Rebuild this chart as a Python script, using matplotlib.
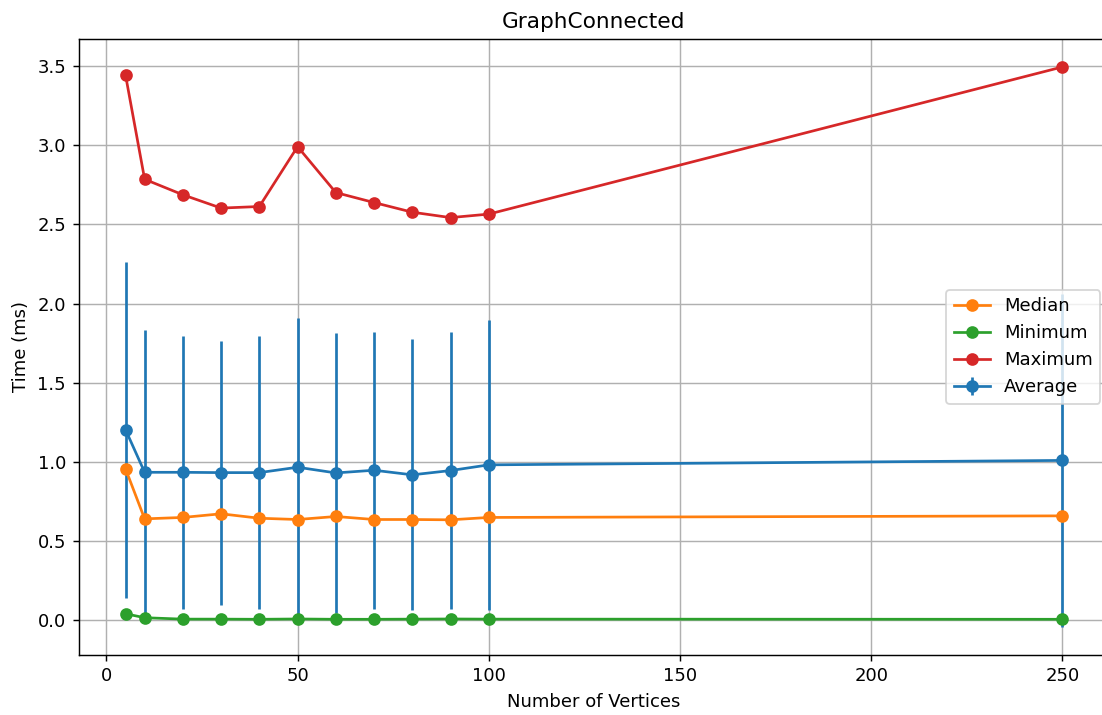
import matplotlib.pyplot as plt

# vertex counts and timings (ms)
vertices = [5, 10, 20, 30, 40, 50, 60, 70, 80, 90, 100, 250]
average = [1.204, 0.935, 0.935, 0.933, 0.933, 0.967, 0.931, 0.948, 0.919, 0.946, 0.982, 1.01]
std_dev = [1.06, 0.90, 0.862, 0.833, 0.864, 0.944, 0.885, 0.875, 0.855, 0.875, 0.915, 1.05]
median = [0.957, 0.641, 0.65, 0.673, 0.645, 0.637, 0.656, 0.637, 0.637, 0.635, 0.65, 0.66]
minimum = [0.042, 0.017, 0.008, 0.008, 0.007, 0.009, 0.007, 0.007, 0.008, 0.009, 0.008, 0.007]
maximum = [3.443, 2.785, 2.687, 2.603, 2.613, 2.991, 2.701, 2.638, 2.577, 2.543, 2.565, 3.494]

fig = plt.figure(figsize=(1102 / 130, 715 / 130), dpi=130)
plt.errorbar(vertices, average, yerr=std_dev, fmt='-o', label='Average')
plt.plot(vertices, median, '-o', label='Median')
plt.plot(vertices, minimum, '-o', label='Minimum')
plt.plot(vertices, maximum, '-o', label='Maximum')

plt.title('GraphConnected')
plt.xlabel('Number of Vertices')
plt.ylabel('Time (ms)')
plt.legend(loc='center right')
plt.grid(True)
# right spine sits just past the image edge in the reference
plt.subplots_adjust(left=0.0714, right=1.0065, top=0.9455, bottom=0.0843)
plt.savefig('out.png')
